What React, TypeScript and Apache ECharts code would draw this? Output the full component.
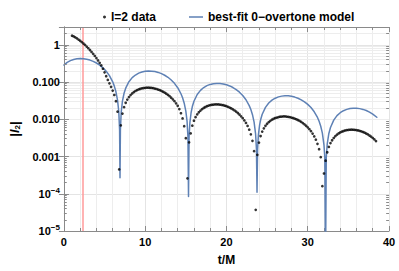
import React, { useEffect, useRef } from 'react';
import * as echarts from 'echarts';

// l=2 data: times (t/M) and |I_2| values
const l2Times = [
  1.0, 1.2, 1.4, 1.6, 1.8, 2.0, 2.2, 2.4, 2.6, 2.8, 3.0, 3.2, 3.4, 3.6, 3.8, 4.0, 4.2, 4.4, 4.6, 4.8,
  5.0, 5.2, 5.4, 5.6, 5.8, 6.0, 6.2, 6.4, 6.6, 6.8, 7.0, 7.2, 7.4, 7.6, 7.8, 8.0, 8.2, 8.4, 8.6, 8.8,
  9.0, 9.2, 9.4, 9.6, 9.8, 10.0, 10.2, 10.4, 10.6, 10.8, 11.0, 11.2, 11.4, 11.6, 11.8, 12.0, 12.2, 12.4, 12.6, 12.8,
  13.0, 13.2, 13.4, 13.6, 13.8, 14.0, 14.2, 14.4, 14.6, 14.8, 15.0, 15.2, 15.4, 15.6, 15.8, 16.0, 16.2, 16.4, 16.6, 16.8,
  17.0, 17.2, 17.4, 17.6, 17.8, 18.0, 18.2, 18.4, 18.6, 18.8, 19.0, 19.2, 19.4, 19.6, 19.8, 20.0, 20.2, 20.4, 20.6, 20.8,
  21.0, 21.2, 21.4, 21.6, 21.8, 22.0, 22.2, 22.4, 22.6, 22.8, 23.0, 23.2, 23.4, 23.6, 23.8, 24.0, 24.2, 24.4, 24.6, 24.8,
  25.0, 25.2, 25.4, 25.6, 25.8, 26.0, 26.2, 26.4, 26.6, 26.8, 27.0, 27.2, 27.4, 27.6, 27.8, 28.0, 28.2, 28.4, 28.6, 28.8,
  29.0, 29.2, 29.4, 29.6, 29.8, 30.0, 30.2, 30.4, 30.6, 30.8, 31.0, 31.2, 31.4, 31.6, 31.8, 32.0, 32.2, 32.4, 32.6, 32.8,
  33.0, 33.2, 33.4, 33.6, 33.8, 34.0, 34.2, 34.4, 34.6, 34.8, 35.0, 35.2, 35.4, 35.6, 35.8, 36.0, 36.2, 36.4, 36.6, 36.8,
  37.0, 37.2, 37.4, 37.6, 37.8, 38.0, 38.2, 38.4,
];
const l2Values = [
  1.75, 1.67, 1.58, 1.49, 1.38, 1.28, 1.18, 1.08, 0.989, 0.895, 0.807, 0.723, 0.643, 0.57, 0.501, 0.438, 0.379, 0.327, 0.279, 0.227,
  0.182, 0.143, 0.114, 0.092, 0.0743, 0.0589, 0.0448, 0.0305, 0.016, 0.00045, 0.00687, 0.0142, 0.0211, 0.0277, 0.0338, 0.0394, 0.0446, 0.0493, 0.0536, 0.0574,
  0.0607, 0.0634, 0.0658, 0.0676, 0.069, 0.0699, 0.0704, 0.0705, 0.07, 0.0693, 0.0681, 0.0667, 0.0649, 0.0627, 0.0604, 0.0577, 0.0548, 0.0518, 0.0485, 0.0451,
  0.0416, 0.0379, 0.0343, 0.0306, 0.0268, 0.023, 0.0188, 0.0145, 0.0105, 0.0065, 0.0031, 0.00026, 0.0024, 0.0042, 0.00673, 0.00914, 0.0114, 0.0135, 0.0154, 0.0171,
  0.0187, 0.0201, 0.0213, 0.0224, 0.0233, 0.024, 0.0245, 0.0248, 0.025, 0.0251, 0.025, 0.0247, 0.0243, 0.0238, 0.0231, 0.0224, 0.0215, 0.0206, 0.0195, 0.0184,
  0.0172, 0.016, 0.0147, 0.0134, 0.012, 0.0107, 0.00933, 0.00797, 0.00662, 0.00525, 0.00394, 0.00264, 0.00139, 0.000037, 0.00111, 0.00236, 0.00355, 0.00467, 0.00571, 0.00668,
  0.00756, 0.00836, 0.00909, 0.00973, 0.0103, 0.0108, 0.0111, 0.0114, 0.0117, 0.0118, 0.0119, 0.0119, 0.0118, 0.0116, 0.0114, 0.0111, 0.0108, 0.0104, 0.01, 0.00954,
  0.00903, 0.00848, 0.00791, 0.00731, 0.00668, 0.00606, 0.00542, 0.00479, 0.00412, 0.00347, 0.00283, 0.00219, 0.00157, 0.00096, 0.00016, 0.00035, 0.00077, 0.0013, 0.00181, 0.00229,
  0.00273, 0.00314, 0.00352, 0.00385, 0.00415, 0.00442, 0.00464, 0.00483, 0.00499, 0.0051, 0.00519, 0.00523, 0.00525, 0.00523, 0.00518, 0.00511, 0.005, 0.00488, 0.00472, 0.00455,
  0.00435, 0.00414, 0.00391, 0.00366, 0.00341, 0.00314, 0.00287, 0.00259,
];

// best-fit 0-overtone model curve
const fitTimes = [
  0, 0.4, 0.8, 1.2, 1.6, 2.0, 2.4, 2.8, 3.2, 3.6, 4.0, 4.4, 4.8, 5.2, 5.6, 6.0, 6.2, 6.4, 6.6, 6.75,
  6.85, 6.9, 6.95, 7.05, 7.2, 7.4, 7.6, 8.0, 8.4, 8.8, 9.2, 9.6, 10.0, 10.4, 10.8, 11.2, 11.6, 12.0, 12.4, 12.8,
  13.2, 13.6, 14.0, 14.4, 14.6, 14.8, 15.0, 15.15, 15.26, 15.33, 15.4, 15.5, 15.65, 15.8, 16.0, 16.4, 16.8, 17.2, 17.6, 18.0,
  18.4, 18.8, 19.2, 19.6, 20.0, 20.4, 20.8, 21.2, 21.6, 22.0, 22.4, 22.8, 23.0, 23.2, 23.4, 23.58, 23.69, 23.76, 23.83, 23.93,
  24.08, 24.23, 24.4, 24.8, 25.2, 25.6, 26.0, 26.4, 26.8, 27.2, 27.6, 28.0, 28.4, 28.8, 29.2, 29.6, 30.0, 30.4, 30.8, 31.2,
  31.4, 31.6, 31.8, 32.0, 32.1, 32.19, 32.28, 32.4, 32.6, 32.8, 33.2, 33.6, 34.0, 34.4, 34.8, 35.2, 35.6, 36.0, 36.4, 36.8,
  37.2, 37.6, 38.0, 38.5,
];
const fitValues = [
  0.285, 0.336, 0.375, 0.403, 0.42, 0.426, 0.422, 0.409, 0.388, 0.359, 0.324, 0.284, 0.24, 0.195, 0.148, 0.101, 0.0775, 0.0546, 0.0323, 0.0159,
  0.00519, 0.00027, 0.00523, 0.0156, 0.0306, 0.05, 0.0683, 0.102, 0.131, 0.154, 0.173, 0.186, 0.195, 0.198, 0.196, 0.191, 0.181, 0.168, 0.152, 0.134,
  0.113, 0.0921, 0.0704, 0.0484, 0.0376, 0.027, 0.0165, 0.0089, 0.0034, 0.000085, 0.0034, 0.0082, 0.0152, 0.0219, 0.0305, 0.0462, 0.0597, 0.071, 0.0798, 0.0862,
  0.0903, 0.0919, 0.0914, 0.0888, 0.0845, 0.0785, 0.0711, 0.0627, 0.0533, 0.0435, 0.0334, 0.0232, 0.0182, 0.0133, 0.0084, 0.00413, 0.00158, 0.00011, 0.00158, 0.0038,
  0.00704, 0.0102, 0.0136, 0.0209, 0.0273, 0.0326, 0.0368, 0.0399, 0.0418, 0.0427, 0.0425, 0.0414, 0.0394, 0.0367, 0.0333, 0.0294, 0.0251, 0.0206, 0.0159, 0.0112,
  0.0088, 0.0065, 0.00424, 0.00203, 0.00095, 0.000001, 0.00094, 0.00217, 0.00415, 0.00603, 0.00948, 0.0125, 0.015, 0.017, 0.0184, 0.0194, 0.0198, 0.0198, 0.0193, 0.0184,
  0.0172, 0.0156, 0.0138, 0.0113,
];

const xTickValues = [0, 10, 20, 30, 40];
const yTickExponents = [-5, -4, -3, -2, -1, 0];
const yTickLabels = ['10{sup|\u22125}', '10{sup|\u22124}', '0.001', '0.010', '0.100', '1'];
const legendNames = ['l=2 data', 'best-fit 0\u2212overtone model'];
const peakTime = 2.3;

const FONT = '"Liberation Sans", Arial, sans-serif';

export default function App() {
  const ref = useRef<HTMLDivElement>(null);
  useEffect(() => {
    if (!ref.current) return;
    const chart = echarts.init(ref.current, null, { renderer: 'svg' });

    const xMin = xTickValues[0];
    const xMax = xTickValues[xTickValues.length - 1];
    const yMin = Math.pow(10, yTickExponents[0]);
    const yMax = 3;

    // minor log grid positions (2..9 x 10^k)
    const minorY: number[] = [];
    for (let e = yTickExponents[0]; e <= yTickExponents[yTickExponents.length - 1]; e++) {
      for (let m = 2; m <= 9; m++) {
        const v = m * Math.pow(10, e);
        if (v < yMax) minorY.push(v);
      }
    }
    const gridColor = '#ededed';
    const frameColor = '#8a8a8a';
    const gridMarks: any[] = [];
    const tickMarks: any[] = [];
    minorY.forEach((v) => {
      gridMarks.push({ yAxis: v, lineStyle: { color: gridColor, width: 1, type: 'solid' } });
      tickMarks.push([
        { coord: [xMin, v], lineStyle: { color: frameColor, width: 1, type: 'solid' } },
        { coord: [xMin + 0.35, v] },
      ]);
      tickMarks.push([
        { coord: [xMax - 0.35, v], lineStyle: { color: frameColor, width: 1, type: 'solid' } },
        { coord: [xMax, v] },
      ]);
    });
    gridMarks.push({ xAxis: peakTime, lineStyle: { color: '#ff9a9a', width: 1.5, type: 'solid' } });

    const labelStyle = {
      fontFamily: FONT,
      fontSize: 11,
      fontWeight: 'bold' as const,
      color: '#000',
    };

    const option: any = {
      animation: false,
      textStyle: { fontFamily: FONT },
      grid: { left: 55, right: 10, top: 27, bottom: 39, containLabel: false },
      legend: [
        {
          data: [{ name: legendNames[0], icon: 'circle' }],
          left: 98,
          top: 6,
          itemWidth: 3,
          itemHeight: 3,
          selectedMode: false,
          textStyle: { fontFamily: FONT, fontSize: 12, fontWeight: 'bold', color: '#000' },
        },
        {
          data: [{ name: legendNames[1], icon: 'rect' }],
          left: 184,
          top: 6,
          itemWidth: 14,
          itemHeight: 1.5,
          selectedMode: false,
          textStyle: { fontFamily: FONT, fontSize: 12, fontWeight: 'bold', color: '#000' },
        },
      ],
      xAxis: [
        {
          type: 'value',
          min: xMin,
          max: xMax,
          interval: 10,
          position: 'bottom',
          name: 't/M',
          nameLocation: 'middle',
          nameGap: 23,
          nameTextStyle: { fontFamily: FONT, fontSize: 12, fontWeight: 'bold', color: '#000' },
          axisLine: { show: true, lineStyle: { color: frameColor, width: 1 } },
          axisTick: { show: true, inside: true, length: 5, lineStyle: { color: frameColor } },
          minorTick: { show: true, splitNumber: 5, length: 3, lineStyle: { color: frameColor } },
          axisLabel: { ...labelStyle, margin: 5 },
          splitLine: { show: true, lineStyle: { color: '#e4e4e4', width: 1 } },
          minorSplitLine: { show: true, lineStyle: { color: gridColor, width: 1 } },
        },
        {
          type: 'value',
          min: xMin,
          max: xMax,
          interval: 10,
          position: 'top',
          axisLine: { show: true, lineStyle: { color: frameColor, width: 1 } },
          axisTick: { show: true, inside: true, length: 5, lineStyle: { color: frameColor } },
          minorTick: { show: true, splitNumber: 5, length: 3, lineStyle: { color: frameColor } },
          axisLabel: { show: false },
          splitLine: { show: false },
        },
      ],
      yAxis: [
        {
          type: 'log',
          logBase: 10,
          min: yMin,
          max: yMax,
          position: 'left',
          name: '|{i|I}{s|2}|',
          nameLocation: 'middle',
          nameGap: 36,
          nameRotate: 90,
          nameTextStyle: {
            fontFamily: FONT,
            fontSize: 13,
            fontWeight: 'bold',
            color: '#000',
            rich: {
              i: { fontFamily: FONT, fontSize: 13, fontStyle: 'italic', fontWeight: 'bold', color: '#000' },
              s: { fontFamily: FONT, fontSize: 8, fontWeight: 'bold', color: '#000', verticalAlign: 'top', padding: [6, 0, 0, 0] },
            },
          },
          axisLine: { show: true, lineStyle: { color: frameColor, width: 1 } },
          axisTick: { show: true, inside: true, length: 5, lineStyle: { color: frameColor } },
          axisLabel: {
            ...labelStyle,
            margin: 4,
            showMaxLabel: false,
            formatter: (v: number) => {
              const lg = Math.log10(v);
              const e = Math.round(lg);
              if (Math.abs(lg - e) > 1e-6) return '';
              const idx = yTickExponents.indexOf(e);
              return idx >= 0 ? yTickLabels[idx] : '';
            },
            rich: {
              sup: { fontFamily: FONT, fontSize: 8, fontWeight: 'bold', color: '#000', verticalAlign: 'bottom', padding: [0, 0, 7, 0] },
            },
          },
          splitLine: { show: true, lineStyle: { color: '#e4e4e4', width: 1 } },
        },
        {
          type: 'log',
          logBase: 10,
          min: yMin,
          max: yMax,
          position: 'right',
          axisLine: { show: true, lineStyle: { color: frameColor, width: 1 } },
          axisTick: { show: true, inside: true, length: 5, lineStyle: { color: frameColor } },
          axisLabel: { show: false },
          splitLine: { show: false },
        },
      ],
      series: [
        {
          type: 'line',
          name: '__grid',
          data: [],
          silent: true,
          z: 0,
          markLine: {
            z: 0,
            silent: true,
            symbol: ['none', 'none'],
            label: { show: false },
            animation: false,
            data: gridMarks,
          },
        },
        {
          type: 'line',
          name: legendNames[1],
          data: fitTimes.map((t, i) => [t, fitValues[i]]),
          showSymbol: false,
          symbol: 'none',
          color: '#5E81B5',
          lineStyle: { color: '#5E81B5', width: 1.5, cap: 'round', join: 'round' },
          itemStyle: { color: '#5E81B5' },
          z: 3,
        },
        {
          type: 'scatter',
          name: legendNames[0],
          data: l2Times.map((t, i) => [t, l2Values[i]]),
          symbol: 'circle',
          symbolSize: 2.7,
          itemStyle: { color: '#000' },
          color: '#000',
          z: 4,
          markLine: {
            z: 6,
            silent: true,
            symbol: ['none', 'none'],
            label: { show: false },
            animation: false,
            data: tickMarks,
          },
        },
      ],
    };
    chart.setOption(option);
    return () => chart.dispose();
  }, []);
  return <div ref={ref} style={{ position: 'absolute', left: 0, top: 0, width: 399, height: 271 }} />;
}
